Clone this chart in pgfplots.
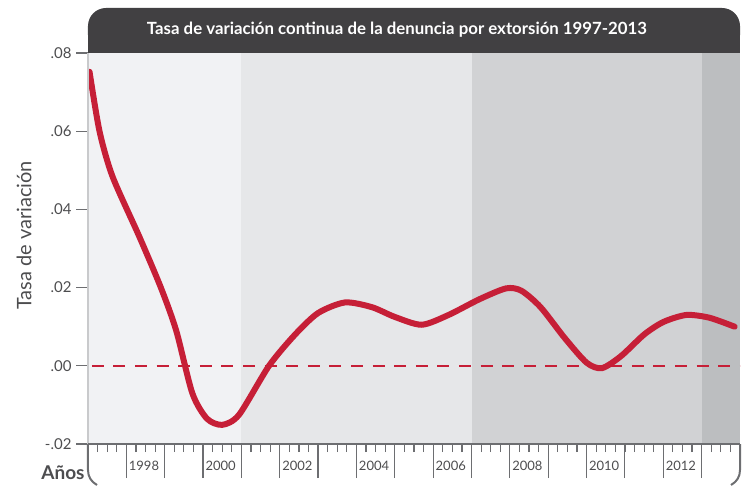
\documentclass[border=0pt]{standalone}
\usepackage{fontspec}
\setmainfont{Lato}
\usepackage{pgfplots}
\pgfplotsset{compat=1.18}
\usetikzlibrary{calc}
\definecolor{titlebg}{HTML}{414042}
\definecolor{bandA}{HTML}{F1F2F4}
\definecolor{bandB}{HTML}{E6E7E9}
\definecolor{bandC}{HTML}{D1D2D4}
\definecolor{bandD}{HTML}{BCBEC0}
\definecolor{linered}{HTML}{C61F37}
\definecolor{axisgray}{HTML}{6D6E71}
\definecolor{leftline}{HTML}{C9CACC}
\definecolor{txt}{HTML}{4D4D4F}

\begin{document}
\begin{tikzpicture}
% main axis: bands, curve, y ticks
\begin{axis}[
  name=ax, scale only axis, width=652pt, height=391pt,
  xmin=1997, xmax=2014, ymin=-0.02, ymax=0.08,
  axis line style={draw=none},
  xtick=\empty, ytick pos=left,
  tick align=outside, major tick length=12pt,
  ytick={-0.02,0,0.02,0.04,0.06,0.08},
  yticklabels={-.02,.00,.02,.04,.06,.08},
  ytick style={draw=axisgray, line width=1.2pt},
  yticklabel style={font=\fontsize{15}{17}\selectfont, text=txt, xshift=-1pt},
  ylabel={Tasa de variación},
  ylabel style={at={(rel axis cs:0,0.5)}, anchor=center, yshift=64pt, xshift=13pt, font=\fontsize{20}{22}\selectfont, text=txt},
]
\addplot[fill=bandA, draw=none] coordinates {(1997,-0.02)(1997,0.08)(2001,0.08)(2001,-0.02)} -- cycle;
\addplot[fill=bandB, draw=none] coordinates {(2001,-0.02)(2001,0.08)(2007,0.08)(2007,-0.02)} -- cycle;
\addplot[fill=bandC, draw=none] coordinates {(2007,-0.02)(2007,0.08)(2013,0.08)(2013,-0.02)} -- cycle;
\addplot[fill=bandD, draw=none] coordinates {(2013,-0.02)(2013,0.08)(2014,0.08)(2014,-0.02)} -- cycle;
\addplot[linered, line width=2pt, dash pattern=on 12pt off 9.6pt] coordinates {(1997.1,0)(2014,0)};
\addplot[linered, line width=6pt, line cap=round, smooth, tension=0.45] coordinates {
(1997.04,0.0752)(1997.30,0.0600)(1997.64,0.0484)
(1998.34,0.0330)(1998.90,0.0200)(1999.30,0.0090)
(1999.72,-0.0070)(2000.10,-0.0135)(2000.50,-0.0151)(2000.94,-0.0125)
(2001.72,0.0000)(2002.40,0.0080)(2003.00,0.0135)(2003.70,0.0162)
(2004.40,0.0150)(2005.00,0.0125)(2005.70,0.0105)(2006.40,0.0130)
(2007.20,0.0170)(2007.90,0.0198)(2008.30,0.0192)(2008.80,0.0150)
(2009.43,0.0071)(2010.00,0.0008)(2010.40,-0.0006)(2010.90,0.0025)
(2011.50,0.0080)(2012.00,0.0112)(2012.60,0.0130)(2013.20,0.0123)
(2013.86,0.0100)};
\end{axis}
% time axis: long year ticks, quarter ticks
\begin{axis}[
  name=axx, scale only axis, width=652pt, height=391pt,
  xmin=1997, xmax=2014, ymin=-0.02, ymax=0.08,
  axis line style={draw=none},
  ytick=\empty, xtick pos=left,
  tick align=outside, major tick length=34pt, minor tick length=8pt,
  xtick={1998,...,2013},
  xticklabels={1998,,2000,,2002,,2004,,2006,,2008,,2010,,2012,},
  minor xtick={1997.25,1997.5,...,2013.8},
  xtick style={draw=axisgray, line width=1.2pt},
  xticklabel style={anchor=west, font=\fontsize{13}{15}\selectfont, text=txt, xshift=-1pt, yshift=12pt},
  xlabel={Años},
  xlabel style={at={(rel axis cs:0,0)}, anchor=center, xshift=-25pt, yshift=-29pt, font=\bfseries\fontsize{19}{21}\selectfont, text=txt},
]
\end{axis}
% axis lines
\draw[leftline, line width=1.2pt] (ax.south west) -- (ax.north west);
\draw[axisgray, line width=2pt] (ax.south west) -- (ax.south east);
% title banner
\fill[titlebg, rounded corners=18pt] (ax.north west) rectangle ($(ax.north east)+(0,45pt)$);
\fill[titlebg] (ax.north west) rectangle ($(ax.north east)+(0,20pt)$);
\node[text=white, font=\bfseries\fontsize{16.8}{18}\selectfont] at ($(ax.north west)+(309pt,23pt)$) {Tasa de variación continua de la denuncia por extorsión 1997-2013};
% bracket ends of the time axis
\draw[axisgray, line width=2pt] (ax.south west) -- ++(0,-26pt) to[out=-90,in=150] ++(9pt,-15pt);
\draw[axisgray, line width=2pt] (ax.south east) -- ++(0,-26pt) to[out=-90,in=30] ++(-9pt,-15pt);
% page extent
\path ($(ax.south west)+(-88pt,-42pt)$) rectangle ($(ax.north east)+(7pt,53pt)$);
\end{tikzpicture}
\end{document}
